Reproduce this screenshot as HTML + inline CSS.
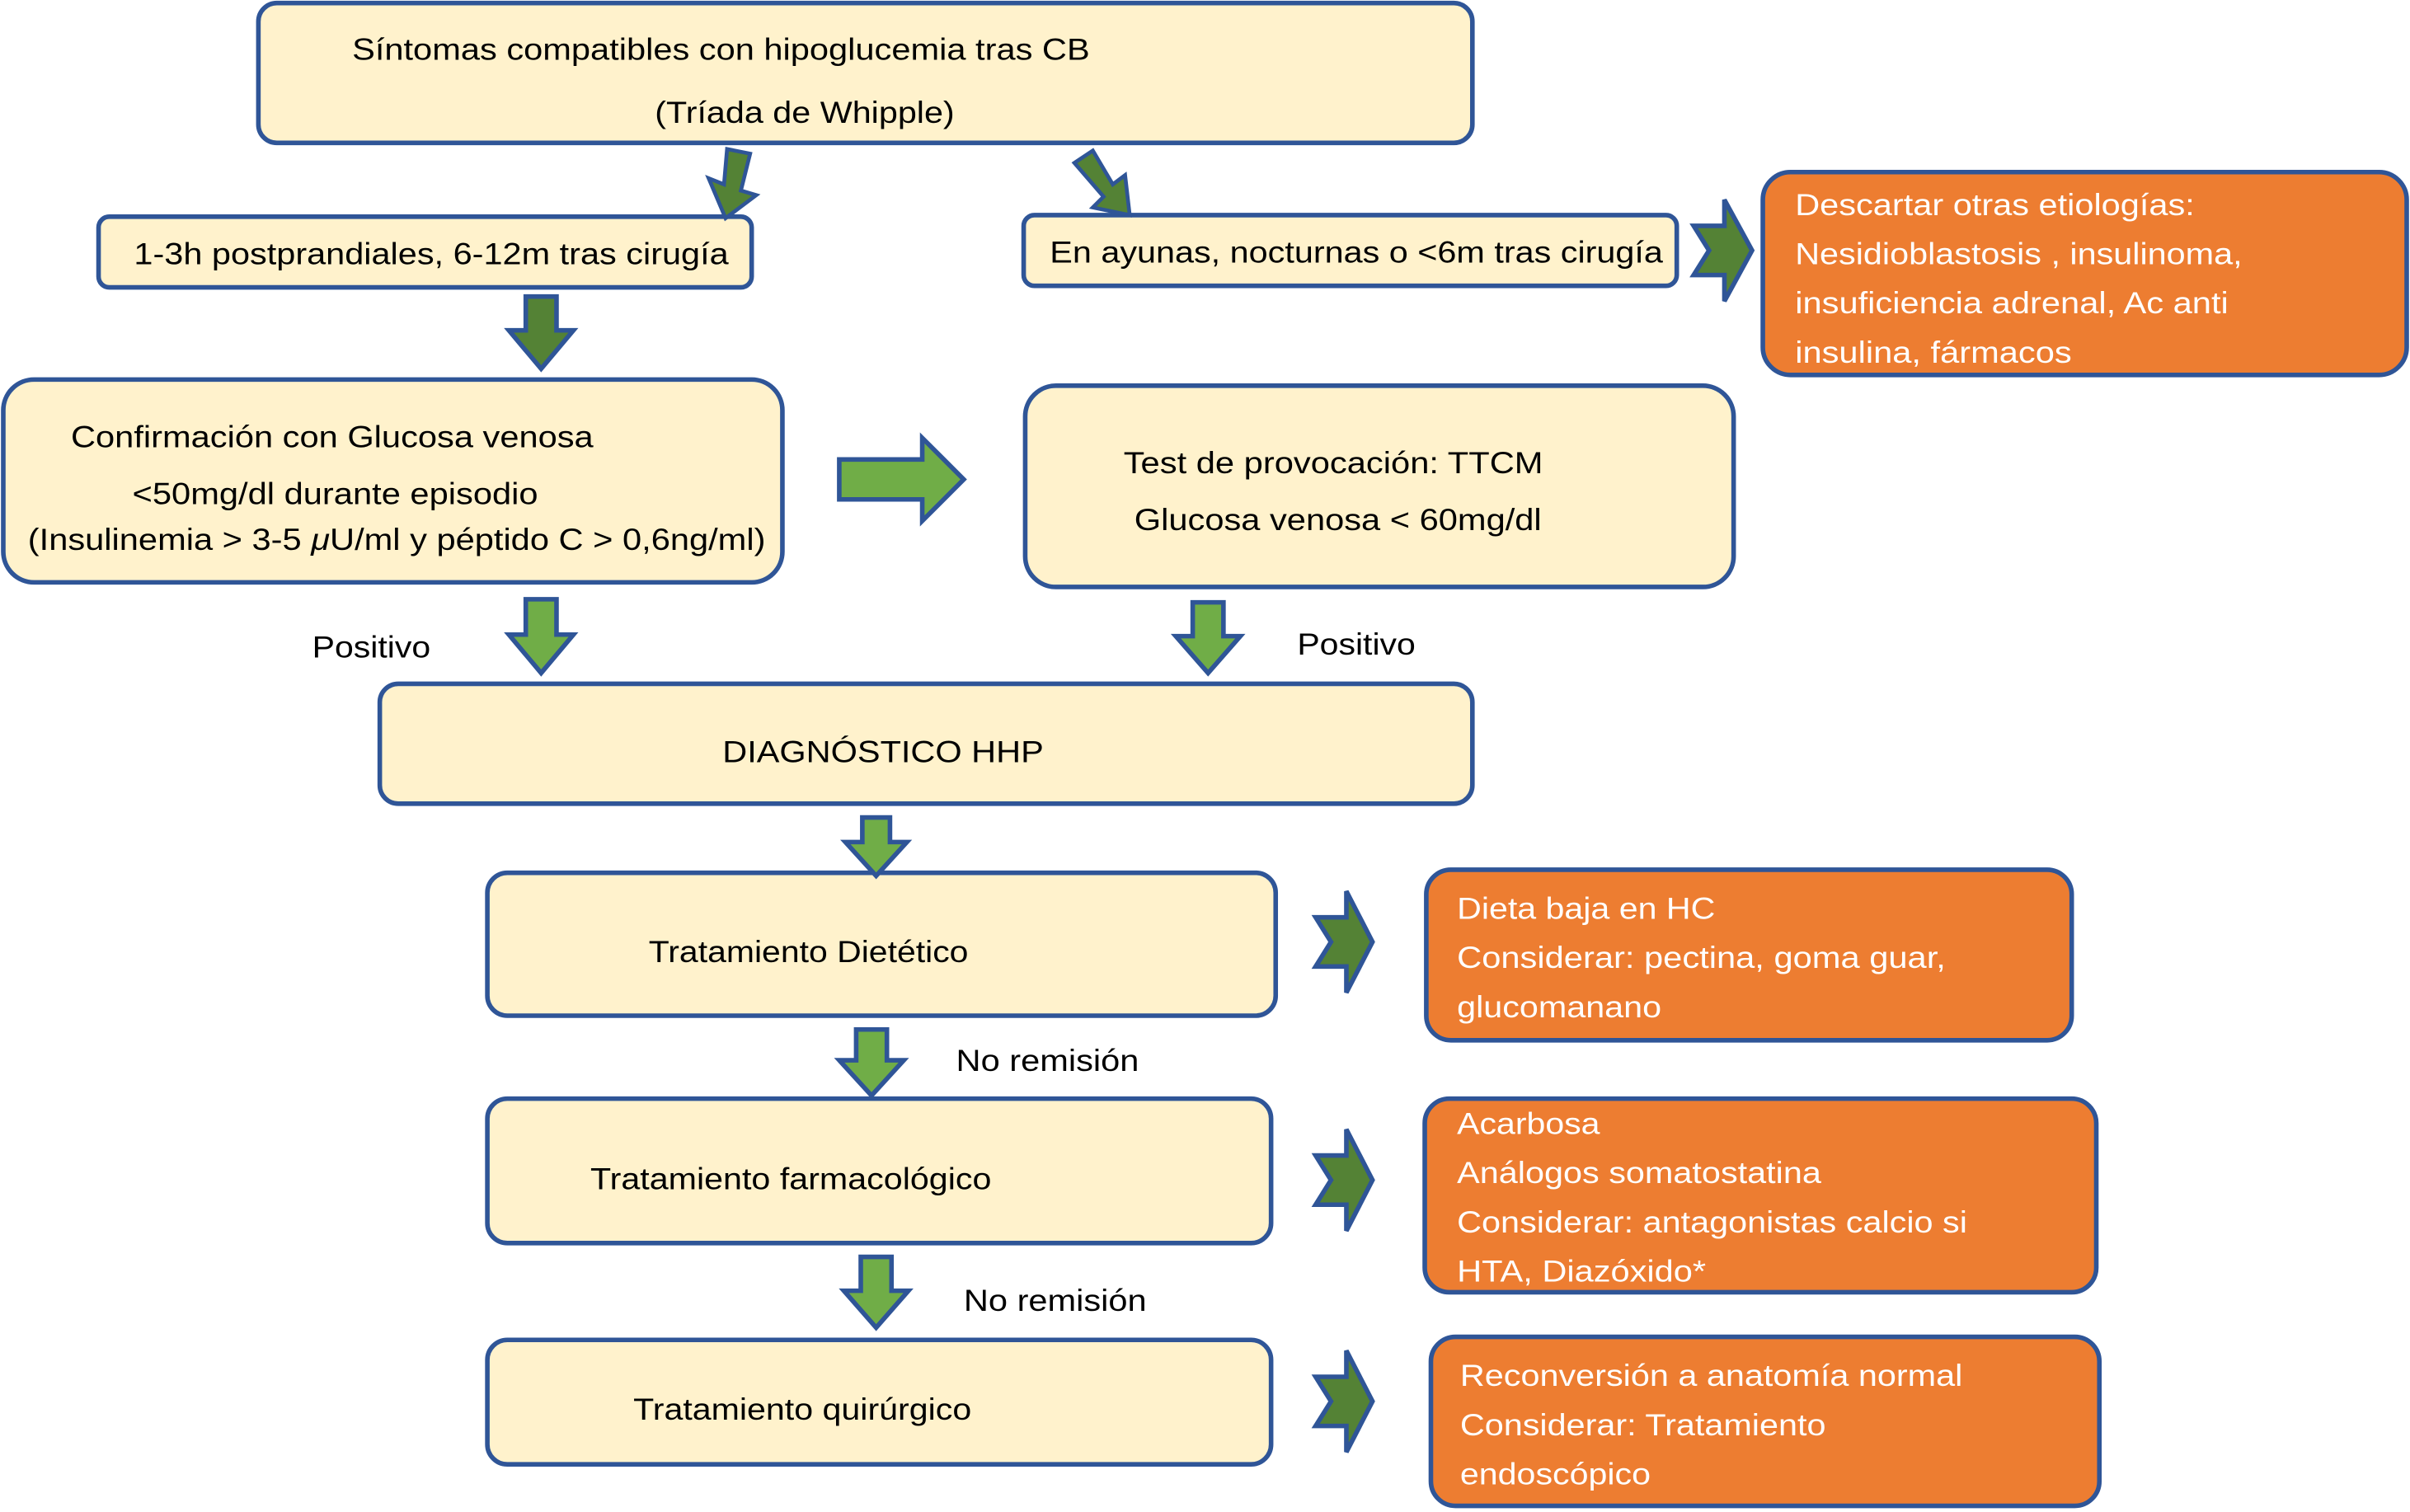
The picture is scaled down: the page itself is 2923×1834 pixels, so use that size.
<!DOCTYPE html>
<html><head><meta charset="utf-8"><style>
html,body{margin:0;padding:0;background:#fff;}
svg{display:block;}
text{font-family:"Liberation Sans",sans-serif;font-size:20px;fill:#000;}
.w{fill:#fff;}
</style></head><body>
<svg width="2923" height="1834" viewBox="0 0 1568 984" xmlns="http://www.w3.org/2000/svg">
<g stroke="#2F5597" stroke-width="3">
<rect x="168" y="2" width="790" height="91" rx="12" fill="#FFF2CC"/>
<rect x="64" y="141" width="425" height="46" rx="7" fill="#FFF2CC"/>
<rect x="666" y="140" width="425" height="46" rx="7" fill="#FFF2CC"/>
<rect x="1147" y="112" width="419" height="132" rx="18" fill="#ED7D31"/>
<rect x="2" y="247" width="507" height="132" rx="20" fill="#FFF2CC"/>
<rect x="667" y="251" width="461" height="131" rx="20" fill="#FFF2CC"/>
<rect x="247" y="445" width="711" height="78" rx="12" fill="#FFF2CC"/>
<rect x="317" y="568" width="513" height="93" rx="13" fill="#FFF2CC"/>
<rect x="928" y="566" width="420" height="111" rx="16" fill="#ED7D31"/>
<rect x="317" y="715" width="510" height="94" rx="13" fill="#FFF2CC"/>
<rect x="927" y="715" width="437" height="126" rx="16" fill="#ED7D31"/>
<rect x="317" y="872" width="510" height="81" rx="13" fill="#FFF2CC"/>
<rect x="931" y="870" width="435" height="110" rx="16" fill="#ED7D31"/>

<!-- tilted arrows -->
<polygon fill="#548235" points="473,97 488,100 482,124 492,127 472,142 461,116 471,120" stroke-width="2.5"/>
<polygon fill="#548235" points="699,106 711,98 724,120 732,114 735,140 711,135 718,128" stroke-width="2.5"/>
<!-- down arrows -->
<polygon fill="#548235" points="342,193 362,193 362,215 373,215 352,240 331,215 342,215"/>
<polygon fill="#70AD47" points="342,390 362,390 362,413 373,413 352,438 331,413 342,413"/>
<polygon fill="#70AD47" points="776,392 796,392 796,414 807,414 786,438 765,414 776,414"/>
<polygon fill="#70AD47" points="561,532 579,532 579,548 590,548 570,570 550,548 561,548"/>
<polygon fill="#70AD47" points="557,670 577,670 577,690 588,690 567,713 546,690 557,690"/>
<polygon fill="#70AD47" points="560,818 580,818 580,840 591,840 570,864 549,840 560,840"/>
<!-- big right arrow -->
<polygon fill="#70AD47" points="546,299 600,299 600,285 627,312 600,339 600,325 546,325"/>
<!-- notched right arrows -->
<polygon fill="#548235" points="1102,147 1122,147 1122,130 1140,163 1122,196 1122,179 1102,179 1112,163"/>
<polygon fill="#548235" points="856,597 876,597 876,580 893,613 876,646 876,629 856,629 866,613"/>
<polygon fill="#548235" points="856,752 876,752 876,735 893,768 876,801 876,784 856,784 866,768"/>
<polygon fill="#548235" points="856,896 876,896 876,879 893,912 876,945 876,928 856,928 866,912"/>
</g>
<g lengthAdjust="spacingAndGlyphs">
<text x="229" y="39" textLength="480" lengthAdjust="spacingAndGlyphs">Síntomas compatibles con hipoglucemia tras CB</text>
<text x="426" y="80" textLength="195" lengthAdjust="spacingAndGlyphs">(Tríada de Whipple)</text>
<text x="87" y="172" textLength="387" lengthAdjust="spacingAndGlyphs">1-3h postprandiales, 6-12m tras cirugía</text>
<text x="683" y="171" textLength="399" lengthAdjust="spacingAndGlyphs">En ayunas, nocturnas o &lt;6m tras cirugía</text>
<text class="w" x="1168" y="140" textLength="260" lengthAdjust="spacingAndGlyphs">Descartar otras etiologías:</text>
<text class="w" x="1168" y="172" textLength="291" lengthAdjust="spacingAndGlyphs">Nesidioblastosis , insulinoma,</text>
<text class="w" x="1168" y="204" textLength="282" lengthAdjust="spacingAndGlyphs">insuficiencia adrenal, Ac anti</text>
<text class="w" x="1168" y="236" textLength="180" lengthAdjust="spacingAndGlyphs">insulina, fármacos</text>
<text x="46" y="291" textLength="340" lengthAdjust="spacingAndGlyphs">Confirmación con Glucosa venosa</text>
<text x="86" y="328" textLength="264" lengthAdjust="spacingAndGlyphs">&lt;50mg/dl durante episodio</text>
<text x="18" y="358" textLength="480" lengthAdjust="spacingAndGlyphs">(Insulinemia &gt; 3-5 <tspan font-style="italic">μ</tspan>U/ml y péptido C &gt; 0,6ng/ml)</text>
<text x="731" y="308" textLength="273" lengthAdjust="spacingAndGlyphs">Test de provocación: TTCM</text>
<text x="738" y="345" textLength="265" lengthAdjust="spacingAndGlyphs">Glucosa venosa &lt; 60mg/dl</text>
<text x="203" y="428" textLength="77" lengthAdjust="spacingAndGlyphs">Positivo</text>
<text x="844" y="426" textLength="77" lengthAdjust="spacingAndGlyphs">Positivo</text>
<text x="470" y="496" textLength="209" lengthAdjust="spacingAndGlyphs">DIAGNÓSTICO HHP</text>
<text x="422" y="626" textLength="208" lengthAdjust="spacingAndGlyphs">Tratamiento Dietético</text>
<text class="w" x="948" y="598" textLength="168" lengthAdjust="spacingAndGlyphs">Dieta baja en HC</text>
<text class="w" x="948" y="630" textLength="318" lengthAdjust="spacingAndGlyphs">Considerar: pectina, goma guar,</text>
<text class="w" x="948" y="662" textLength="133" lengthAdjust="spacingAndGlyphs">glucomanano</text>
<text x="622" y="697" textLength="119" lengthAdjust="spacingAndGlyphs">No remisión</text>
<text x="384" y="774" textLength="261" lengthAdjust="spacingAndGlyphs">Tratamiento farmacológico</text>
<text class="w" x="948" y="738" textLength="93" lengthAdjust="spacingAndGlyphs">Acarbosa</text>
<text class="w" x="948" y="770" textLength="237" lengthAdjust="spacingAndGlyphs">Análogos somatostatina</text>
<text class="w" x="948" y="802" textLength="332" lengthAdjust="spacingAndGlyphs">Considerar: antagonistas calcio si</text>
<text class="w" x="948" y="834" textLength="162" lengthAdjust="spacingAndGlyphs">HTA, Diazóxido*</text>
<text x="627" y="853" textLength="119" lengthAdjust="spacingAndGlyphs">No remisión</text>
<text x="412" y="924" textLength="220" lengthAdjust="spacingAndGlyphs">Tratamiento quirúrgico</text>
<text class="w" x="950" y="902" textLength="327" lengthAdjust="spacingAndGlyphs">Reconversión a anatomía normal</text>
<text class="w" x="950" y="934" textLength="238" lengthAdjust="spacingAndGlyphs">Considerar: Tratamiento</text>
<text class="w" x="950" y="966" textLength="124" lengthAdjust="spacingAndGlyphs">endoscópico</text>
</g>
</svg>
</body></html>
